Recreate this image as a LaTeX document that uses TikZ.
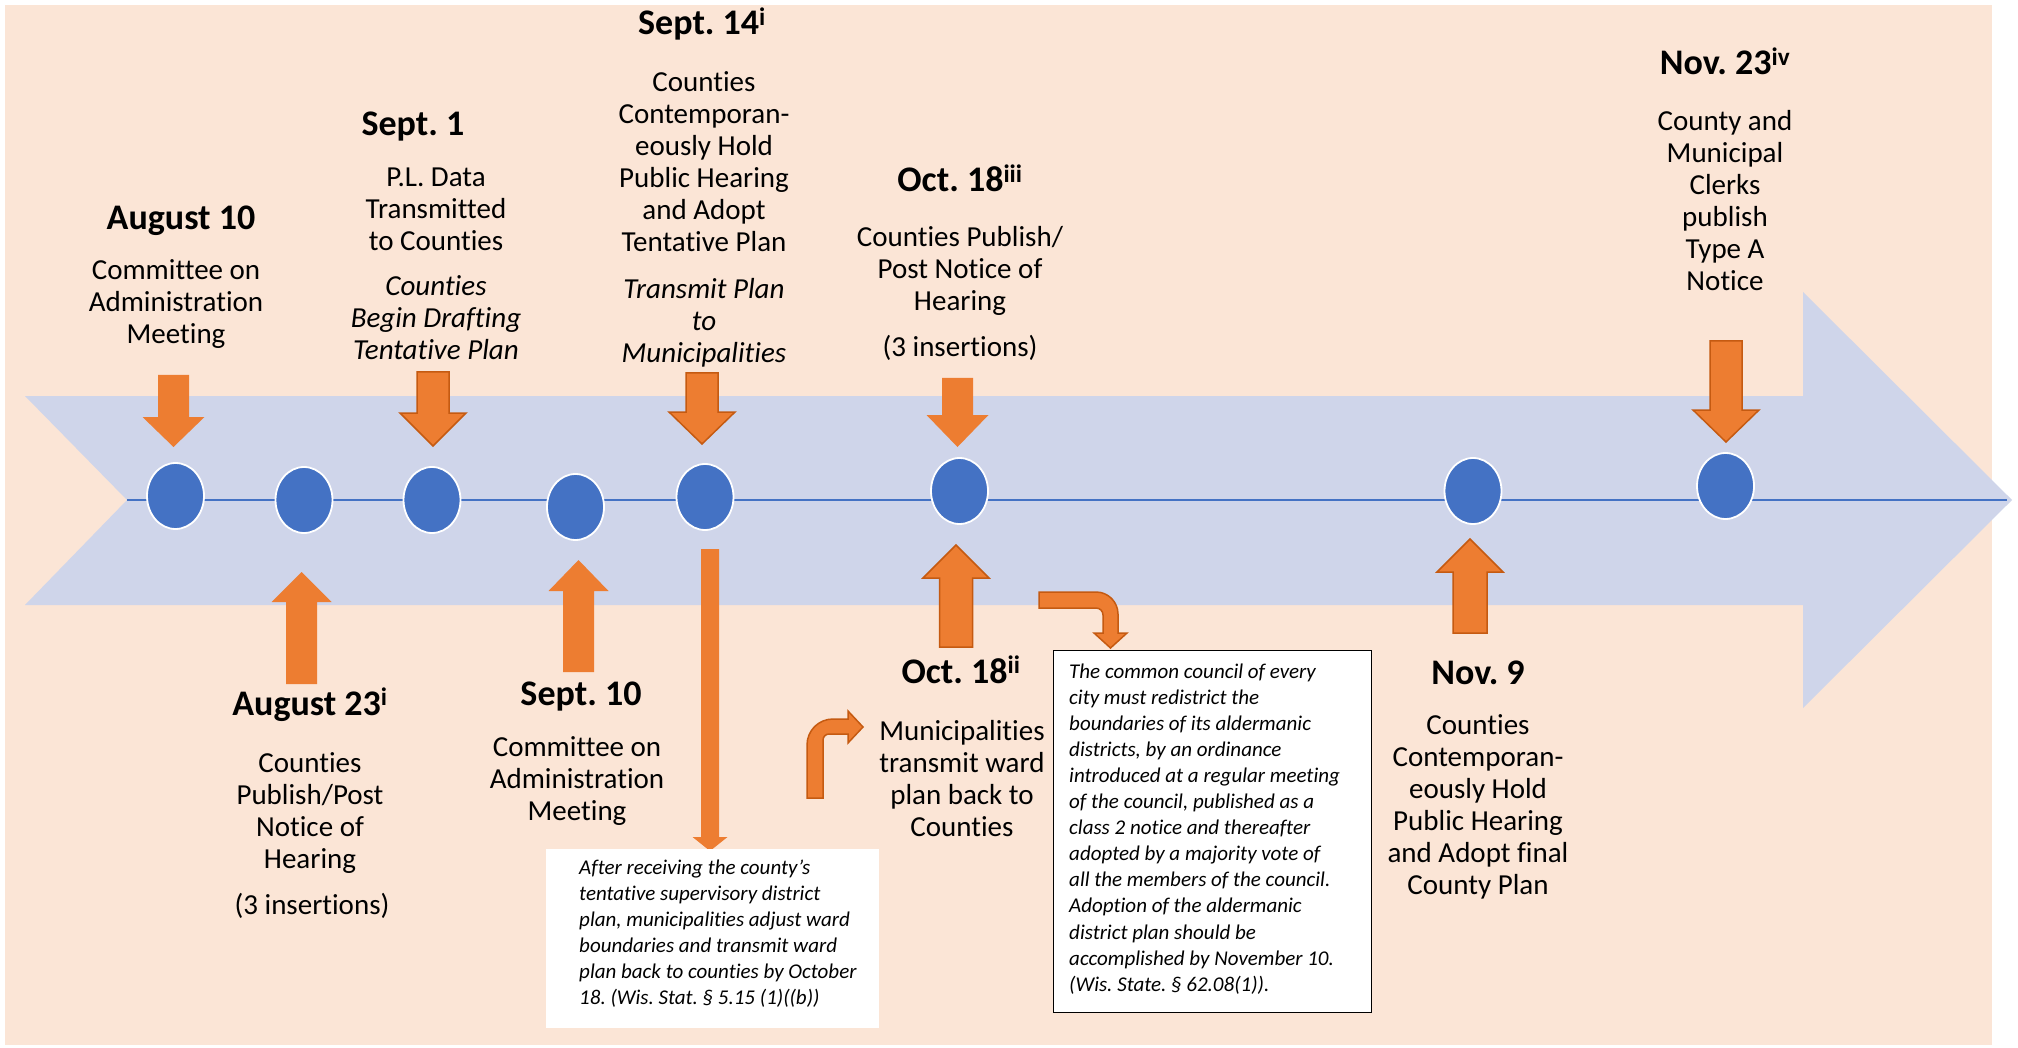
\documentclass[tikz,border=0pt]{standalone}
\usepackage{fontspec}
\setmainfont[Ligatures=NoCommon]{Carlito}
\frenchspacing
\usetikzlibrary{shapes.geometric}
\definecolor{peach}{HTML}{FBE5D6}
\definecolor{band}{HTML}{CFD5EA}
\definecolor{dotblue}{HTML}{4472C4}
\definecolor{orng}{HTML}{ED7D31}
\definecolor{orngdark}{HTML}{C55A11}
\newcommand{\tlstackc}[1]{\begin{tabular}[t]{@{}c@{}}#1\end{tabular}}
\newcommand{\tlstackl}[1]{\begin{tabular}[t]{@{}l@{}}#1\end{tabular}}
% block arrow: [style]{cx}{shaft half width}{head half width}{base y}{head base y}{tip y}
\newcommand{\tlarrow}[7][blk]{%
  \path[#1] ({#2-#3},#5) -- ({#2+#3},#5) -- ({#2+#3},#6) -- ({#2+#4},#6) -- (#2,#7)
    -- ({#2-#4},#6) -- ({#2-#3},#6) -- cycle;}
\begin{document}
\frenchspacing
\begin{tikzpicture}[x=1pt,y=-1pt,
  title/.style={anchor=base, inner sep=0pt, font=\fontsize{36}{40}\selectfont\bfseries},
  body/.style={anchor=base, inner sep=0pt, font=\fontsize{29}{32}\selectfont},
  bodyit/.style={anchor=base, inner sep=0pt, font=\fontsize{29}{32}\selectfont\itshape},
  note/.style={anchor=base west, inner sep=0pt, font=\fontsize{21}{26.1}\selectfont\itshape},
  dot/.style={ellipse, fill=dotblue, draw=white, line width=1.8pt, minimum width=57pt, minimum height=66pt, inner sep=0pt},
  blk/.style={fill=orng},
  blkline/.style={fill=orng, draw=orngdark, line width=1.5pt, line join=miter},
]
\useasboundingbox (0,0) rectangle (2018,1048);
\fill[white] (0,0) rectangle (2018,1048);
\fill[peach] (5,5) rectangle (1992,1045);

% big timeline arrow
\fill[band] (25,396) -- (1803,396) -- (1803,292) -- (2012,500) -- (1803,708) -- (1803,605) -- (25,605) -- (127,500) -- cycle;
\coordinate (lstart) at (127,500);
\coordinate (lend) at (2007,500);
\draw[dotblue, line width=2.4pt] (lstart) -- (lend);

% dots
\node[dot] (c1) at (175.5,496) {};
\node[dot] (c2) at (304,500) {};
\node[dot] (c3) at (432,500) {};
\node[dot] (c4) at (575.5,507) {};
\node[dot] (c5) at (705,497) {};
\node[dot] (c6) at (959.5,491) {};
\node[dot] (c7) at (1473,491) {};
\node[dot] (c8) at (1725.5,486) {};

% down arrows
\tlarrow{173.5}{15.5}{31}{375}{417}{447}
\tlarrow[blkline]{433}{16}{33}{372}{413}{446}
\tlarrow[blkline]{702}{16}{33}{373}{412}{444}
\tlarrow{957.5}{15.5}{31}{378}{415}{447}
\tlarrow[blkline]{1726}{16}{33}{341}{410}{442}
% up arrows
\tlarrow{301.5}{15.5}{30}{684}{602}{572}
\tlarrow{578.5}{15.5}{30}{672}{591}{560}
\tlarrow[blkline]{956}{16.5}{33}{647}{578}{545}
\tlarrow[blkline]{1470}{17}{33}{633}{572}{539}
% long thin arrow
\tlarrow{710}{9}{17.5}{549}{837}{851}

% bent arrows
\path[blkline] (807,798) -- (807,745) .. controls (807,730.6) and (818.6,719) .. (833,719)
  -- (848,719) -- (848,711) -- (863,727) -- (848,743) -- (848,734) -- (829,734)
  .. controls (825.7,734) and (823,736.7) .. (823,740) -- (823,798) -- cycle;
\path[blkline] (1039,592) -- (1096,592) .. controls (1108.1,592) and (1118,601.9) .. (1118,614)
  -- (1118,633) -- (1127,633) -- (1110.5,648) -- (1094,633) -- (1103,633) -- (1103,615)
  .. controls (1103,611.1) and (1099.9,608) .. (1096,608) -- (1039,608) -- cycle;

% note boxes
\node[fill=white, inner sep=0pt, minimum width=333pt, minimum height=179pt, anchor=north west] (noteA) at (546,849) {};
\node[fill=white, draw=black, line width=1.2pt, inner sep=0pt, minimum width=318pt, minimum height=362pt, anchor=north west] (noteB) at (1053,650) {};
\node[note] (noteAtext) at (579,874) {\tlstackl{After receiving the county’s\\tentative supervisory district\\plan, municipalities adjust ward\\boundaries and transmit ward\\plan back to counties by October\\18. (Wis. Stat. § 5.15 (1)((b))}};
\node[note] (noteBtext) at (1069,678) {\tlstackl{The common council of every\\city must redistrict the\\boundaries of its aldermanic\\districts, by an ordinance\\introduced at a regular meeting\\of the council, published as a\\class 2 notice and thereafter\\adopted by a majority vote of\\all the members of the council.\\Adoption of the aldermanic\\district plan should be\\accomplished by November 10.\\(Wis. State. § 62.08(1)).}};

% upper labels
\node[title] (t1) at (181,230) {August 10};
\node[body] (b1) at (176,280) {\tlstackc{Committee on\\Administration\\Meeting}};
\node[title] (t2) at (413,136) {Sept. 1};
\node[body] (b2) at (436,187) {\tlstackc{P.L. Data\\Transmitted\\to Counties}};
\node[bodyit] (i2) at (436,296) {\tlstackc{Counties\\Begin Drafting\\Tentative Plan}};
\node[title] (t3) at (702,35) {Sept. 14\textsuperscript{i}};
\node[body] (b3) at (704,92) {\tlstackc{Counties\\Contemporan-\\eously Hold\\Public Hearing\\and Adopt\\Tentative Plan}};
\node[bodyit] (i3) at (704,299) {\tlstackc{Transmit Plan\\to\\Municipalities}};
\node[title] (t4) at (960,192) {Oct. 18\textsuperscript{iii}};
\node[body] (b4) at (960,247) {\tlstackc{Counties Publish/\\Post Notice of\\Hearing}};
\node[body] (b4b) at (960,356) {(3 insertions)};
\node[title] (t5) at (1725,75) {Nov. 23\textsuperscript{iv}};
\node[body] (b5) at (1725,131) {\tlstackc{County and\\Municipal\\Clerks\\publish\\Type A\\Notice}};

% lower labels
\node[title] (t6) at (310,715) {August 23\textsuperscript{i}};
\node[body] (b6) at (310,772) {\tlstackc{Counties\\Publish/Post\\Notice of\\Hearing}};
\node[body] (b6b) at (312,914) {(3 insertions)};
\node[title] (t7) at (581,705) {Sept. 10};
\node[body] (b7) at (577,756) {\tlstackc{Committee on\\Administration\\Meeting}};
\node[title] (t8) at (961,683) {Oct. 18\textsuperscript{ii}};
\node[body] (b8) at (962,740) {\tlstackc{Municipalities\\transmit ward\\plan back to\\Counties}};
\node[title] (t9) at (1478,684) {Nov. 9};
\node[body] (b9) at (1478,734) {\tlstackc{Counties\\Contemporan-\\eously Hold\\Public Hearing\\and Adopt final\\County Plan}};
\end{tikzpicture}
\end{document}
